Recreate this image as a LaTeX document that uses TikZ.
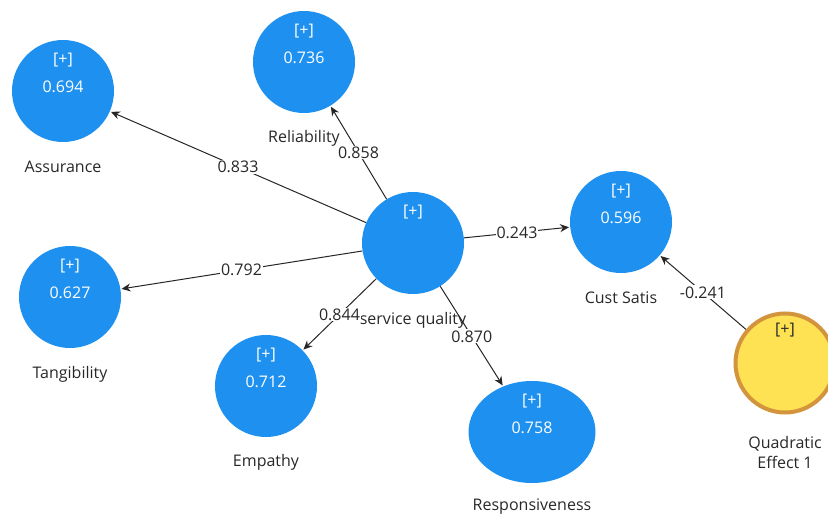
\documentclass[tikz,border=0pt]{standalone}
\usepackage{fontspec}
\setmainfont{Open Sans}
\usetikzlibrary{arrows.meta,shapes.geometric}
\definecolor{sblue}{RGB}{30,144,240}
\definecolor{syellow}{RGB}{255,226,84}
\definecolor{sorange}{RGB}{210,148,60}
\definecolor{stext}{RGB}{40,40,40}
\tikzset{
  lv/.style={circle, fill=sblue, minimum size=102pt, inner sep=0pt},
  ctext/.style={text=white, font=\fontsize{16}{18}\selectfont, inner sep=0pt},
  olabel/.style={text=stext, font=\fontsize{16}{20}\selectfont, inner sep=0pt, align=center},
  elabel/.style={fill=white, text=stext, font=\fontsize{16}{18}\selectfont, inner sep=1pt},
  conn/.style={draw=black!85, line width=1pt, -{Stealth[length=9pt,width=8pt]}, shorten >=1pt}
}
\begin{document}
\begin{tikzpicture}[x=1pt,y=-1pt]
\useasboundingbox (0,0) rectangle (828,516);
\node[lv, label={[ctext,yshift=31pt]center:[+]}, label={[ctext,yshift=4pt]center:0.694}, label={[olabel,yshift=-76pt]center:Assurance}] (asr) at (63,91) {};
\node[lv, label={[ctext,yshift=31pt]center:[+]}, label={[ctext,yshift=4pt]center:0.736}, label={[olabel,yshift=-76pt]center:Reliability}] (rel) at (304,62) {};
\node[lv, label={[ctext,yshift=31pt]center:[+]}, label={[ctext,yshift=4pt]center:0.596}, label={[olabel,yshift=-76pt]center:Cust Satis}] (cs) at (621,222) {};
\node[lv, label={[ctext,yshift=31pt]center:[+]}, label={[ctext,yshift=4pt]center:0.627}, label={[olabel,yshift=-77pt]center:Tangibility}] (tan) at (70,297) {};
\node[lv, label={[ctext,yshift=31pt]center:[+]}, label={[ctext,yshift=4pt]center:0.712}, label={[olabel,yshift=-76pt]center:Empathy}] (emp) at (266,386) {};
\node[lv, ellipse, minimum width=127pt, minimum height=102pt, label={[ctext,yshift=31pt]center:[+]}, label={[ctext,yshift=4pt]center:0.758}, label={[olabel,yshift=-75pt]center:Responsiveness}] (res) at (532,432) {};
\node[lv, label={[ctext,yshift=31pt]center:[+]}, label={[olabel,yshift=-77pt]center:service quality}] (sq) at (413,243) {};
\node[circle, fill=syellow, draw=sorange, line width=4pt, minimum size=99pt, inner sep=0pt,
  label={[ctext,text=stext,yshift=33pt]center:[+]}, label={[olabel,yshift=-89pt]center:Quadratic\\Effect 1}] (qe) at (785,363) {};
\draw[conn] (sq) -- node[elabel]{0.833} (asr);
\draw[conn] (sq) -- node[elabel]{0.858} (rel);
\draw[conn] (sq) -- node[elabel]{0.243} (cs);
\draw[conn] (sq) -- node[elabel]{0.792} (tan);
\draw[conn] (sq) -- node[elabel]{0.844} (emp);
\draw[conn] (sq) -- node[elabel]{0.870} (res);
\draw[conn] (qe) -- node[elabel]{-0.241} (cs);
\end{tikzpicture}
\end{document}
